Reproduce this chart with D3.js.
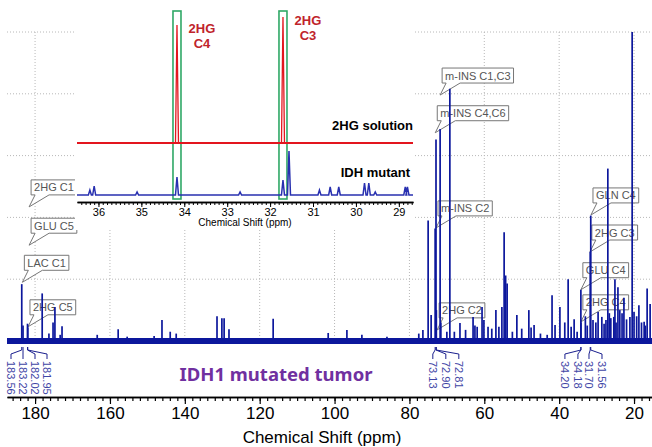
<!DOCTYPE html>
<html>
<head>
<meta charset="utf-8">
<script src="https://cdn.jsdelivr.net/npm/d3@7/dist/d3.min.js"></script>
<style>
  body { margin: 0; background: #fff; }
  svg { display: block; }
</style>
</head>
<body>
<svg id="chart" width="652" height="447"></svg>
<script>
// ---- main 13C spectrum (ppm, intensity in grid units) ----
const mainPeaks = [
  [183.56, 0.92], [183.22, 0.25], [182.02, 0.28], [181.95, 0.22],
  [178.1, 0.77], [176.3, 0.12], [175.2, 0.3], [174.7, 0.55], [173.3, 0.1], [172.8, 0.24],
  [163.4, 0.1], [157.8, 0.19], [155.4, 0.07], [148.2, 0.08], [146.1, 0.34],
  [143.9, 0.15], [142.3, 0.12], [131.4, 0.4], [130.1, 0.37], [129.5, 0.37], [128.2, 0.19],
  [116.4, 0.36], [101.7, 0.13], [96.7, 0.18], [92.7, 0.1], [86.0, 0.07],
  [77.5, 0.12], [76.4, 0.18], [75.0, 1.95], [74.2, 0.42], [73.13, 1.82], [72.90, 3.26],
  [72.81, 0.5], [71.8, 3.43], [71.6, 0.3], [70.0, 0.15], [69.2, 4.08], [68.0, 0.15],
  [66.5, 0.29], [65.0, 0.18], [63.0, 0.39], [62.5, 0.25], [61.9, 0.23], [60.6, 0.55],
  [60.1, 0.34], [59.0, 0.23], [58.0, 0.2], [56.9, 0.5], [56.1, 0.23], [55.3, 0.55],
  [54.7, 1.76], [54.3, 1.06], [53.9, 0.93], [52.5, 0.15], [51.3, 0.42], [50.0, 0.2],
  [48.1, 0.5], [47.5, 0.22], [46.7, 0.26], [45.0, 0.12], [43.2, 0.1], [41.9, 0.74],
  [41.1, 0.26], [39.8, 0.55], [38.5, 0.3], [37.6, 1.0], [36.8, 0.23], [36.0, 0.35],
  [35.2, 0.15], [34.20, 0.83], [34.18, 0.3], [33.0, 0.4], [32.5, 0.25], [31.70, 1.44],
  [31.56, 2.03], [30.96, 0.34], [30.2, 0.3], [29.6, 0.47], [28.6, 0.39], [28.0, 0.28],
  [27.5, 0.34], [27.0, 2.79], [26.6, 0.45], [26.2, 0.37], [25.4, 0.39], [25.1, 1.0],
  [24.8, 0.3], [24.3, 0.87], [23.8, 0.5], [23.2, 0.45], [22.7, 0.7], [22.0, 0.35],
  [21.1, 0.39], [20.5, 5.0], [20.0, 0.47], [19.3, 0.4], [18.7, 0.58], [18.0, 0.3],
  [17.3, 0.31], [17.0, 0.25], [16.5, 0.85], [15.7, 0.6]
];
const mainTicks = [180, 160, 140, 120, 100, 80, 60, 40, 20];
const gridLevels = [1, 2, 3, 4, 5];

// metabolite callouts: text, ppm and intensity of the pointer tip
const calloutText = ['2HG C1', 'GLU C5', 'LAC C1', '2HG C5', 'm-INS C1,C3', 'm-INS C4,C6',
  'm-INS C2', 'GLN C4', '2HG C3', 'GLU C4', '2HG C4', '2HG C2'];
const calloutPpm = [181.6, 181.6, 183.4, 181.9, 71.8, 73.1, 72.9, 31.5, 31.8, 34.2, 34.2, 72.6];
const calloutValue = [2.17, 1.55, 0.95, 0.23, 3.98, 3.37, 1.83, 2.04, 1.44, 0.83, 0.31, 0.18];

// peak-picking labels (grouped)
const leadGroups = [
  [183.56, 183.22, 182.02, 181.95],
  [73.13, 72.90, 72.81],
  [34.20, 34.18],
  [31.70, 31.56]
];

// ---- inset: 2HG solution vs IDH mutant ----
const insetTicks = [36, 35, 34, 33, 32, 31, 30, 29];
const redOffset = 5.2;
const insetRedPeaks = [[34.17, 11.8], [31.70, 12.6]];
const insetBluePeaks = [
  [36.2, 0.5], [36.1, 0.9], [35.1, 0.3], [34.17, 1.8], [32.7, 0.3], [31.70, 1.5],
  [31.56, 4.4], [30.85, 0.5], [30.6, 0.8], [30.4, 0.8], [29.8, 1.2], [29.7, 1.2],
  [29.55, 0.3], [28.85, 0.8], [28.8, 0.8]
];
const insetLabels = [['2HG', 'C4'], ['2HG', 'C3']];

const svg = d3.select('#chart');
const navy = '#0c179c';
const AXIS_FONT = '"Liberation Sans", Arial, sans-serif';

const x = d3.scaleLinear().domain([187.5, 15.2]).range([7, 652]);
const y = d3.scaleLinear().domain([0, 5]).range([341, 32]);
const axisY = 397;

// grid
const grid = svg.append('g')
  .attr('stroke', '#b8b8b8')
  .attr('stroke-dasharray', '1,2');
grid.selectAll('line.h')
  .data(gridLevels)
  .enter().append('line')
  .attr('x1', 7).attr('x2', 652)
  .attr('y1', d => y(d)).attr('y2', d => y(d));
grid.selectAll('line.v')
  .data(mainTicks)
  .enter().append('line')
  .attr('x1', d => x(d)).attr('x2', d => x(d))
  .attr('y1', y(5)).attr('y2', y(0));

// callout boxes (drawn under the spectrum)
const callG = svg.append('g');
calloutText.forEach((t, i) => {
  const tx = x(calloutPpm[i]);
  const ty = y(calloutValue[i]);
  const bx = tx + 2, by = ty - 12, h = 15;
  const g = callG.append('g');
  const path = g.append('path')
    .attr('fill', '#fff')
    .attr('stroke', '#777')
    .attr('stroke-width', 1);
  const label = g.append('text')
    .attr('x', bx + 3)
    .attr('y', by - 3.5)
    .attr('font-family', AXIS_FONT)
    .attr('font-size', 11)
    .attr('fill', '#555')
    .text(t);
  const w = label.node().getComputedTextLength() + 6;
  path.attr('d', `M${bx},${by - h} H${bx + w} V${by} H${bx + 18} L${tx},${ty} L${bx + 4},${by} H${bx} Z`);
});

// spectrum baseline + peaks
svg.append('line')
  .attr('x1', 7).attr('x2', 652)
  .attr('y1', y(0)).attr('y2', y(0))
  .attr('stroke', navy)
  .attr('stroke-width', 6);
svg.append('g')
  .selectAll('line')
  .data(mainPeaks)
  .enter().append('line')
  .attr('x1', d => x(d[0])).attr('x2', d => x(d[0]))
  .attr('y1', y(0)).attr('y2', d => y(d[1]))
  .attr('stroke', navy)
  .attr('stroke-width', 1.7);

// peak-picking labels under the baseline
const leadShift = [4, 10, -9.5, 5];
const leadGap = [12, 13, 13, 13];
const leadG = svg.append('g');
leadGroups.forEach((grp, gi) => {
  const mean = d3.mean(grp, p => x(p));
  grp.forEach((p, i) => {
    const xt = mean + leadShift[gi] + (i - (grp.length - 1) / 2) * leadGap[gi];
    const xp = x(p);
    leadG.append('path')
      .attr('d', `M${xp},347 V350 L${xt},354 V359`)
      .attr('fill', 'none')
      .attr('stroke', '#1a1f8e')
      .attr('stroke-width', 1);
    leadG.append('text')
      .attr('transform', `translate(${xt},361) rotate(90)`)
      .attr('dy', '0.35em')
      .attr('font-family', AXIS_FONT)
      .attr('font-size', 11)
      .attr('fill', '#3f46a6')
      .text(p.toFixed(2));
  });
});

svg.append('text')
  .attr('x', 276).attr('y', 381)
  .attr('text-anchor', 'middle')
  .attr('font-family', '"Noto Sans", sans-serif')
  .attr('font-weight', 'bold')
  .attr('font-size', 18.5)
  .attr('fill', '#7030a0')
  .text('IDH1 mutated tumor');

// main x axis
const minorAxis = d3.axisBottom(x)
  .tickValues(d3.range(186, 15, -2))
  .tickSize(4).tickSizeOuter(0)
  .tickFormat('');
const majorAxis = d3.axisBottom(x)
  .tickValues(mainTicks)
  .tickSize(7).tickSizeOuter(0).tickPadding(3)
  .tickFormat(d3.format('d'));
const ax1 = svg.append('g').attr('transform', `translate(0,${axisY})`).call(minorAxis);
const ax2 = svg.append('g').attr('transform', `translate(0,${axisY})`).call(majorAxis);
[ax1, ax2].forEach(a => {
  a.selectAll('line').attr('stroke', '#000').attr('stroke-width', 1.2);
  a.select('.domain').attr('stroke', '#000').attr('stroke-width', 1.6);
});
ax2.selectAll('text')
  .attr('font-family', AXIS_FONT)
  .attr('font-size', 17)
  .attr('fill', '#000');
svg.append('text')
  .attr('x', 322).attr('y', 443)
  .attr('text-anchor', 'middle')
  .attr('font-family', AXIS_FONT)
  .attr('font-size', 17)
  .text('Chemical Shift (ppm)');

// ---- inset ----
const inset = svg.append('g');
inset.append('rect')
  .attr('x', 75).attr('y', 0)
  .attr('width', 340).attr('height', 230)
  .attr('fill', '#fff');

const ix = d3.scaleLinear().domain([36.5, 28.67]).range([77, 413]);
const iy = d3.scaleLinear().domain([0, 18]).range([195, 15]);
const halfW = 0.035;

function spectrumPoints(peaks, base) {
  const pts = [[36.5, base]];
  peaks.slice().sort((a, b) => b[0] - a[0]).forEach(p => {
    pts.push([p[0] + halfW, base], [p[0], base + p[1]], [p[0] - halfW, base]);
  });
  pts.push([28.67, base]);
  return pts;
}
const specLine = d3.line().x(d => ix(d[0])).y(d => iy(d[1]));

// green highlight boxes
inset.selectAll('rect.hl')
  .data(insetRedPeaks)
  .enter().append('rect')
  .attr('x', d => ix(d[0]) - 4)
  .attr('y', 11)
  .attr('width', 8)
  .attr('height', 188)
  .attr('fill', 'none')
  .attr('stroke', '#2fa866')
  .attr('stroke-width', 1.6);

// red (2HG solution)
inset.append('line')
  .attr('x1', ix(36.5)).attr('x2', ix(28.67))
  .attr('y1', iy(redOffset)).attr('y2', iy(redOffset))
  .attr('stroke', '#e3161f').attr('stroke-width', 2.2);
inset.append('path')
  .attr('d', specLine(spectrumPoints(insetRedPeaks, redOffset)))
  .attr('fill', 'none')
  .attr('stroke', '#e3161f')
  .attr('stroke-width', 1.3);

// blue (IDH mutant)
inset.append('path')
  .attr('d', specLine(spectrumPoints(insetBluePeaks, 0)))
  .attr('fill', 'none')
  .attr('stroke', '#2830b0')
  .attr('stroke-width', 1.5);

// labels
const LABEL_FONT = '"Liberation Sans", Arial, sans-serif';
insetRedPeaks.forEach((p, i) => {
  const t = inset.append('text')
    .attr('text-anchor', 'middle')
    .attr('font-family', LABEL_FONT)
    .attr('font-weight', 'bold')
    .attr('font-size', 13)
    .attr('fill', '#c0242b');
  const top = iy(redOffset + p[1]);
  insetLabels[i].forEach((line, k) => {
    t.append('tspan')
      .attr('x', ix(p[0]) + 25)
      .attr('y', top + 8 + k * 15)
      .text(line);
  });
});
inset.append('text')
  .attr('x', 413).attr('y', 130)
  .attr('text-anchor', 'end')
  .attr('font-family', LABEL_FONT)
  .attr('font-weight', 'bold')
  .attr('font-size', 13)
  .text('2HG solution');
inset.append('text')
  .attr('x', 410).attr('y', 177)
  .attr('text-anchor', 'end')
  .attr('font-family', LABEL_FONT)
  .attr('font-weight', 'bold')
  .attr('font-size', 13)
  .text('IDH mutant');

// inset axis
const iMinor = d3.axisBottom(ix)
  .tickValues(d3.range(364, 286, -1).map(v => v / 10))
  .tickSize(3).tickSizeOuter(0)
  .tickFormat('');
const iMajor = d3.axisBottom(ix)
  .tickValues(insetTicks)
  .tickSize(5).tickSizeOuter(0).tickPadding(1)
  .tickFormat(d3.format('d'));
const ia1 = inset.append('g').attr('transform', 'translate(0,202)').call(iMinor);
const ia2 = inset.append('g').attr('transform', 'translate(0,202)').call(iMajor);
[ia1, ia2].forEach(a => {
  a.selectAll('line').attr('stroke', '#000').attr('stroke-width', 1);
  a.select('.domain').attr('stroke', '#000').attr('stroke-width', 1.4);
});
ia2.selectAll('text')
  .attr('font-family', AXIS_FONT)
  .attr('font-size', 11)
  .attr('fill', '#000');
inset.append('text')
  .attr('x', 245).attr('y', 226)
  .attr('text-anchor', 'middle')
  .attr('font-family', AXIS_FONT)
  .attr('font-size', 10)
  .text('Chemical Shift (ppm)');
</script>
</body>
</html>
